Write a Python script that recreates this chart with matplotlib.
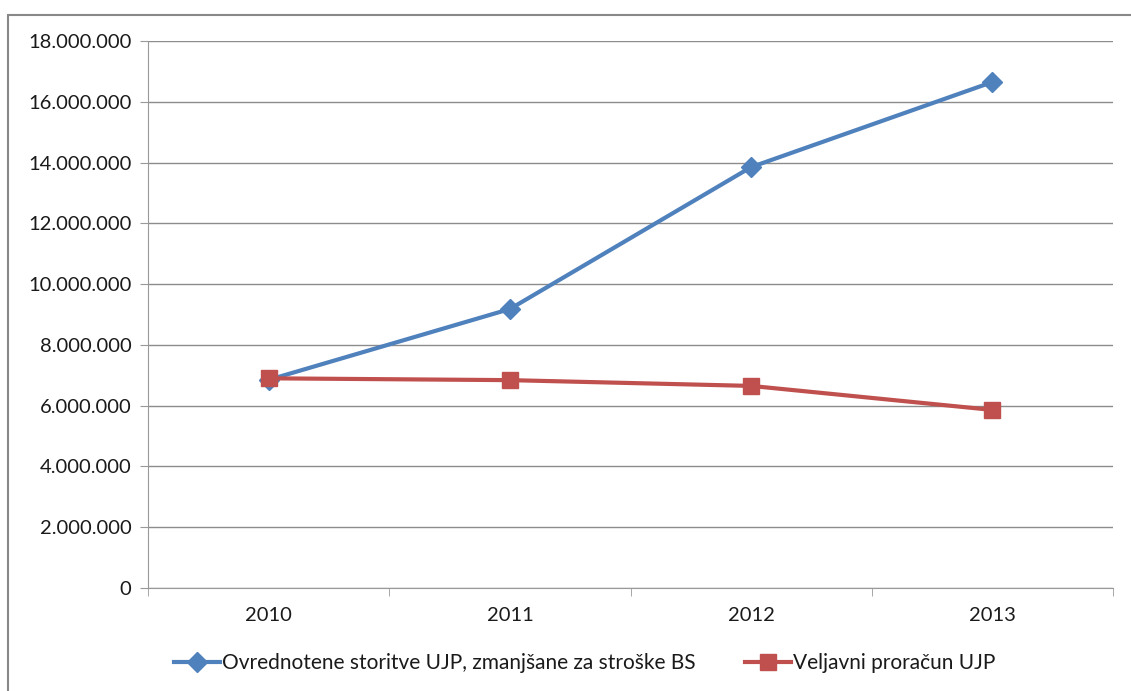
import matplotlib.pyplot as plt
from matplotlib.patches import Rectangle
from matplotlib.ticker import FuncFormatter

years = ['2010', '2011', '2012', '2013']
storitve = [6850000, 9180000, 13850000, 16650000]
proracun = [6900000, 6840000, 6650000, 5860000]

plt.rcParams['font.family'] = ['Lato', 'DejaVu Sans']

fig = plt.figure(figsize=(11.31, 6.91), dpi=100)
fig.patches.append(Rectangle((8 / 1131, -0.1), 1.2, 1 - 15 / 691 + 0.1,
                             transform=fig.transFigure, fill=False,
                             edgecolor='#888888', linewidth=1.5))
ax = fig.add_axes([148 / 1131, 1 - 588 / 691, (1113 - 148) / 1131, (588 - 41) / 691])

x = list(range(len(years)))
ax.plot(x, storitve, color='#4F81BD', linewidth=3, marker='D', markersize=10,
        label='Ovrednotene storitve UJP, zmanjšane za stroške BS', zorder=3)
ax.plot(x, proracun, color='#C0504D', linewidth=3, marker='s', markersize=11,
        label='Veljavni proračun UJP', zorder=4)

ax.set_xlim(-0.5, len(years) - 0.5)
ax.set_ylim(0, 18000000)
ax.set_yticks(range(0, 18000001, 2000000))
ax.yaxis.set_major_formatter(FuncFormatter(lambda v, p: f'{int(v):,}'.replace(',', '.')))
ax.set_xticks(x)
ax.set_xticklabels(years)
ax.set_xticks([i - 0.5 for i in range(len(years) + 1)], minor=True)
ax.tick_params(axis='x', which='major', length=0, pad=14, labelsize=14.5, colors='#1a1a1a')
ax.tick_params(axis='x', which='minor', length=6, color='#999999', direction='out')
ax.tick_params(axis='y', length=6, color='#999999', labelsize=14.5, colors='#1a1a1a', pad=6)
ax.grid(axis='y', color='#8c8c8c', linewidth=1)
ax.set_axisbelow(True)
for s in ['top', 'right']:
    ax.spines[s].set_visible(False)
ax.spines['left'].set_color('#999999')
ax.spines['bottom'].set_color('#999999')

leg = fig.legend(loc='center', bbox_to_anchor=(0.517, 1 - 663 / 691), ncol=2,
                 frameon=False, fontsize=15, handlelength=2.2, handletextpad=0.1,
                 columnspacing=2.4)
for t in leg.get_texts():
    t.set_color('#1a1a1a')

fig.savefig('out.png', dpi=100)
